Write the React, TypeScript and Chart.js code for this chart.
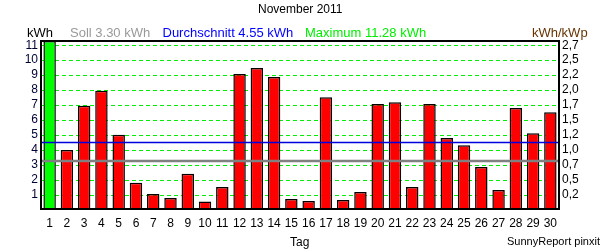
import React, { useEffect, useRef } from "react";
import { Chart, registerables } from "chart.js";

Chart.register(...registerables);

const title = "November 2011";
const days = ["1","2","3","4","5","6","7","8","9","10","11","12","13","14","15","16","17","18","19","20","21","22","23","24","25","26","27","28","29","30"];
const dailyKwh = [11.28, 4.0, 6.96, 7.96, 5.02, 1.82, 1.07, 0.8, 2.42, 0.56, 1.53, 9.07, 9.47, 8.87, 0.73, 0.6, 7.53, 0.67, 1.2, 7.07, 7.2, 1.53, 7.07, 4.8, 4.33, 2.87, 1.33, 6.8, 5.13, 6.53];
const sollKwh = 3.3;
const avgKwh = 4.55;
const maxKwh = 11.28;
const leftTicks = [1, 2, 3, 4, 5, 6, 7, 8, 9, 10, 11];
const rightTickLabels = ["0,2", "0,5", "0,7", "1,0", "1,2", "1,5", "1,7", "2,0", "2,2", "2,5", "2,7"];
const legendTexts = ["Soll 3.30 kWh", "Durchschnitt 4.55 kWh", "Maximum 11.28 kWh"];

const FONT = "'Liberation Sans', Arial, sans-serif";

const overlayPlugin = {
  id: "overlay",
  beforeDatasetsDraw(chart: any) {
    const { ctx, chartArea, scales } = chart;
    const y = scales.y;
    ctx.save();
    ctx.strokeStyle = "#00ee00";
    ctx.lineWidth = 1;
    ctx.setLineDash([4, 3]);
    y.ticks.forEach((t: any) => {
      const py = Math.round(y.getPixelForValue(t.value)) + 0.5;
      ctx.beginPath();
      ctx.moveTo(chartArea.left, py);
      ctx.lineTo(chartArea.right, py);
      ctx.stroke();
    });
    ctx.restore();
  },
  afterDatasetsDraw(chart: any) {
    const { ctx, chartArea, scales } = chart;
    const y = scales.y;
    ctx.save();
    ctx.strokeStyle = "#808080";
    ctx.lineWidth = 2.5;
    const ys = Math.round(y.getPixelForValue(sollKwh));
    ctx.beginPath();
    ctx.moveTo(chartArea.left, ys);
    ctx.lineTo(chartArea.right, ys);
    ctx.stroke();
    ctx.strokeStyle = "#0000dd";
    ctx.lineWidth = 1.5;
    const ya = Math.round(y.getPixelForValue(avgKwh)) + 0.5;
    ctx.beginPath();
    ctx.moveTo(chartArea.left, ya);
    ctx.lineTo(chartArea.right, ya);
    ctx.stroke();
    ctx.strokeStyle = "#000000";
    ctx.lineWidth = 2;
    ctx.strokeRect(chartArea.left, chartArea.top, chartArea.right - chartArea.left, chartArea.bottom - 1 - chartArea.top);
    ctx.restore();
  },
  afterDraw(chart: any) {
    const { ctx } = chart;
    ctx.save();
    ctx.textAlign = "left";
    ctx.textBaseline = "alphabetic";
    ctx.font = `12px ${FONT}`;
    ctx.fillStyle = "#000000";
    ctx.fillText(title, 258, 13);
    ctx.font = `13px ${FONT}`;
    ctx.fillStyle = "#000000";
    ctx.fillText("kWh", 27, 37);
    ctx.fillStyle = "#999999";
    ctx.fillText(legendTexts[0], 70, 37);
    ctx.fillStyle = "#0000ff";
    ctx.fillText(legendTexts[1], 162.5, 37);
    ctx.fillStyle = "#00ee00";
    ctx.fillText(legendTexts[2], 305, 37);
    ctx.fillStyle = "#663300";
    ctx.fillText("kWh/kWp", 532, 37);
    ctx.font = `12px ${FONT}`;
    ctx.fillStyle = "#000000";
    ctx.fillText("Tag", 290, 246);
    ctx.font = `11px ${FONT}`;
    ctx.fillText("SunnyReport pinxit", 507, 245);
    ctx.restore();
  },
};

export default function App() {
  const ref = useRef<HTMLCanvasElement | null>(null);
  useEffect(() => {
    document.body.style.margin = "0";
    const canvas = ref.current;
    if (!canvas) return;
    const chart = new Chart(canvas, {
      type: "bar",
      data: {
        labels: days,
        datasets: [
          {
            data: dailyKwh,
            backgroundColor: dailyKwh.map((v) => (v === maxKwh ? "#00ff00" : "#ff0000")),
            borderColor: "#000000",
            borderWidth: 1.5,
            borderSkipped: "bottom",
            barPercentage: 0.72,
            categoryPercentage: 1,
          },
        ],
      },
      options: {
        responsive: false,
        animation: false,
        layout: { padding: { top: 41, left: 0, right: 0, bottom: 0 } },
        plugins: { legend: { display: false }, tooltip: { enabled: false }, title: { display: false } },
        scales: {
          x: {
            grid: { display: false, drawTicks: false },
            border: { display: false },
            ticks: { color: "#000000", font: { family: FONT, size: 12 }, padding: 6, maxRotation: 0, autoSkip: false },
            afterFit: (s: any) => { s.height = 40; },
          },
          y: {
            position: "left",
            min: 0,
            max: maxKwh,
            afterBuildTicks: (s: any) => { s.ticks = leftTicks.map((v) => ({ value: v })); },
            ticks: { color: "#000033", font: { family: FONT, size: 12 }, padding: 3, autoSkip: false, callback: (v: any) => String(v) },
            grid: { display: false, drawTicks: false },
            border: { display: false },
            afterFit: (s: any) => { s.width = 41; },
          },
          y2: {
            position: "right",
            min: 0,
            max: maxKwh,
            afterBuildTicks: (s: any) => { s.ticks = leftTicks.map((v) => ({ value: v })); },
            ticks: { color: "#000000", font: { family: FONT, size: 12 }, padding: 3, autoSkip: false, callback: (_v: any, i: number) => rightTickLabels[i] },
            grid: { display: false, drawTicks: false },
            border: { display: false },
            afterFit: (s: any) => { s.width = 41; },
          },
        },
      },
      plugins: [overlayPlugin],
    });
    return () => chart.destroy();
  }, []);
  return (
    <div style={{ width: 600, height: 250, background: "#ffffff" }}>
      <canvas ref={ref} width={600} height={250} style={{ display: "block", width: 600, height: 250 }} />
    </div>
  );
}
